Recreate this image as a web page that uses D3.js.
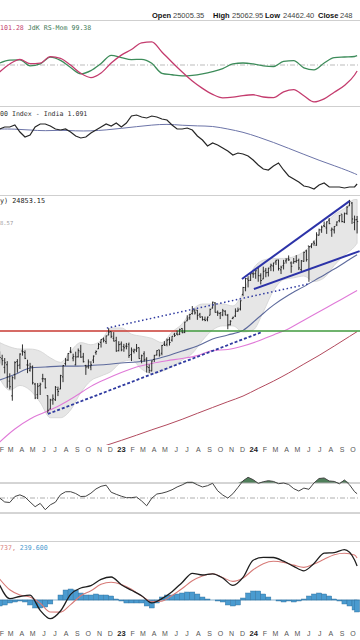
<!DOCTYPE html>
<html><head><meta charset="utf-8">
<script src="https://cdn.jsdelivr.net/npm/d3@7"></script>
<style>html,body{margin:0;padding:0;background:#fff;}svg{display:block}</style>
</head><body>
<svg id="c" width="360" height="640"></svg>
<script>
// ---------- DATA ----------
const firstWeek = "2022-02-04";            // weekly bars, one every 7 days
const opens = [17575,17456,17076,17192,16480,15868,16757,17329,17182,17810,17741,17183,16950,17097,16356,15917,16290,16579,16570,15877,15335,15700,15710,16127,16150,16662,17243,17401,17797,17491,17188,17546,17771,17540,17157,17102,17094,17396,17736,17910,18211,18376,18246,18552,18719,18402,18289,17830,
18131,18015,18033,18118,17649,17790,17859,17965,17383,17680,17443,17066,16919,17428,17634,17863,17707,18124,18120,18339,18314,18594,18612,18595,18873,18683,19246,19400,19612,19748,19784,19576,19450,19320,19328,19525,19890,20156,19679,19622,19540,19730,19522,19053,19365,19487,19731,19844,20601,20965,21434,21365,
21728,21747,22053,21615,21433,21921,21800,22121,22169,22403,22517,21946,22180,22455,22579,22339,22336,22431,22489,21959,22432,23038,23337,23320,23573,23382,23992,24329,24587,24445,24943,24302,24320,24636,24906,25333,24823,25383,25872,26061,24795,24971];
const highs = [17794,17640,17490,17352,16815,16694,17344,17442,17703,18114,17842,17414,17274,17158,16404,16399,16414,16794,16610,15886,15749,15927,16275,16248,16752,17172,17490,17719,17992,17686,17778,17925,18096,17722,17188,17428,17348,17607,17838,18176,18362,18442,18534,18888,18728,18696,18473,18265,
18252,18141,18183,18201,17972,17916,18134,17973,17645,17799,17529,17207,17381,17638,17842,17863,18089,18267,18389,18458,18508,18663,18777,18865,18887,19201,19524,19595,19992,19867,19796,19645,19465,19458,19458,19867,20222,20195,19766,19676,19849,19781,19593,19276,19451,19875,19917,20291,21006,21492,21593,21801,
21834,21928,22124,21751,22127,22053,22069,22298,22353,22525,22527,22180,22517,22619,22776,22427,22625,22795,22588,22502,22994,23111,23339,23490,23667,24174,24401,24592,24854,24861,25078,24472,24563,24867,25268,25333,25433,25849,26277,26134,25234,25212];
const lows = [17244,17165,16810,16203,16133,15671,16556,16843,17003,17598,17442,16824,16888,16340,15735,15739,15903,16438,16172,15183,15335,15511,15662,15858,16142,16438,17155,17359,17710,17345,17166,17514,17497,17291,16748,17016,16950,17263,17637,17900,17969,18209,18133,18552,18410,18255,17775,17788,
17796,17774,17886,17494,17353,17698,17761,17455,17255,17324,16850,16828,16900,17313,17598,17553,17613,18042,18028,18061,18245,18464,18558,18556,18647,18647,19230,19300,19562,19563,19297,19412,19257,19229,19223,19525,19866,19657,19492,19334,19480,19518,18837,19027,19329,19436,19700,19769,20507,20769,20976,21330,
21500,21448,21285,21137,21429,21530,21574,21875,21860,22224,21905,21710,21968,22304,22456,21777,22305,22349,21933,21821,22404,22417,21281,23206,23350,23350,23980,24141,24508,24074,24686,23893,24100,24563,24802,24801,24753,25285,25871,24700,24300,24100];
const closes = [17516,17375,17276,16658,16245,16630,17287,17153,17670,17784,17476,17172,17102,16411,15782,16266,16352,16584,16201,15293,15699,15752,16220,16049,16719,17158,17398,17698,17758,17559,17539,17833,17531,17327,17094,17315,17186,17576,17787,18117,18350,18308,18512,18697,18497,18269,17807,18105,
17859,17957,18027,17604,17854,17856,17944,17466,17594,17413,17100,16945,17360,17599,17828,17624,18065,18069,18315,18203,18499,18534,18563,18826,18665,19189,19332,19564,19745,19646,19517,19428,19310,19266,19435,19820,20192,19674,19638,19654,19751,19542,19047,19230,19425,19732,19795,20268,20970,21457,21349,21731,
21711,21895,21622,21353,21854,21783,22041,22213,22339,22494,22023,22097,22327,22514,22519,22147,22420,22476,22055,22467,22957,22531,23290,23466,23501,24011,24324,24502,24531,24835,24718,24368,24541,24823,25236,24852,25357,25791,26179,25015,24964,24853];

// Indicator series, sampled every N weeks (last week always included)
const bandStep = 4;
const bandUpper = [18200,18000,17900,17900,17800,17500,17300,17800,18200,18100,18300,18900,18900,18600,18500,18400,18200,18700,19100,19800,20100,20100,20100,20000,20700,22000,22500,22600,22600,22700,23000,23600,24600,25300,25700,26300,26300];
const bandLower = [16600,16100,16300,16100,15600,15000,15000,15300,16000,16500,16700,16900,17300,17400,17000,16800,16900,17100,17400,17700,18300,18800,19000,19000,18700,18800,19700,20800,21400,21500,21600,21300,21500,22200,22800,23300,23500];
const maStep = 6;
const ma40w  = [16530,16760,17050,17090,17130,17130,17160,17200,17270,17310,17400,17580,17810,18040,18370,18560,18780,19400,20040,20570,21020,21500,21990,22540,22820];
const ma100w = [14090,14570,14950,15220,15500,15860,16260,16570,16850,17090,17250,17370,17470,17600,17830,17880,18040,18270,18560,18860,19280,19700,20140,20580,20810];
const ma200w = [null,null,null,null,null,null,null,13970,14150,14340,14540,14730,14940,15170,15400,15630,15860,16170,16480,16830,17220,17610,18040,18490,18720];

const rsStep = 4;
const rsRatio = [99.13,100.13,100.71,100.16,100.23,101.05,100.84,99.99,98.96,98.43,99.0,100.24,101.23,101.94,102.76,102.88,101.63,100.35,99.13,98.0,97.08,96.33,95.9,95.98,96.18,96.28,96.0,95.93,96.65,96.93,96.15,95.38,95.76,96.6,97.44,98.75,99.25];
const rsMom   = [100.25,100.61,100.65,99.89,100.13,100.99,100.58,99.68,98.9,99.3,100.19,101.2,100.93,100.68,100.71,100.21,98.96,98.78,98.64,98.71,98.9,99.18,99.55,100.14,100.25,100.13,99.9,99.81,100.45,100.54,99.65,99.39,100.25,100.93,101.0,101.06,101.16];

const relStep = 2;
const relRatio = [1.268,1.274,1.274,1.280,1.259,1.244,1.250,1.274,1.283,1.283,1.277,1.268,1.265,1.268,1.259,1.247,1.241,1.244,1.256,1.265,1.274,1.283,1.277,1.286,1.274,1.286,1.307,1.310,1.304,1.301,1.307,1.304,1.298,1.295,1.280,1.268,1.268,1.271,1.265,1.247,1.235,1.217,1.226,1.220,1.211,1.202,1.190,1.196,1.193,1.187,1.175,1.160,1.148,1.145,1.157,1.166,1.145,1.127,1.118,1.109,1.097,1.094,1.088,1.100,1.106,1.094,1.094,1.094,1.091,1.094,1.094,1.103];
const relMaStep = 6;
const relMA = [1.268,1.268,1.265,1.262,1.265,1.262,1.262,1.265,1.270,1.275,1.280,1.283,1.279,1.277,1.277,1.268,1.259,1.244,1.228,1.210,1.192,1.174,1.158,1.141,1.131];

const rsiStep = 2;
const rsi = [50,44.7,44,52,54.2,51.3,44.7,38.4,42.8,34.4,40.9,44.4,54.4,58.3,58.4,56,52,52.3,56.4,62.1,65.6,67.1,57.7,54.9,52.4,50.4,50.5,51.3,46.1,39.6,49.7,55.3,56.4,58.3,61,64.7,67.5,70.9,71,67.6,64.7,66.4,69.6,59.6,54,49.9,55.7,64.1,72.9,77.6,74.4,69.5,71.7,73.1,72.1,69.1,70,68.1,62.5,59.3,63.2,61.6,70.1,76,76.7,72.7,72.1,68.9,74,67.7,58.4,55.7];
const rsiLevels = [70, 50, 30];

const macdStep = 4;
const macd   = [300,26,70,98,-206,-374,-220,112,240,288,412,460,306,194,84,-58,28,166,352,534,500,524,440,292,452,796,852,850,776,672,584,732,936,948,1008,800,680];
const signal = [420,204,100,60,-64,-240,-242,-92,86,184,314,356,310,214,78,-30,-22,90,230,384,480,524,450,372,438,604,726,774,752,698,652,718,814,904,934,900,840];
const histStep = 2;
const hist = [-120,-100,-60,-40,-20,-40,-100,-160,-160,-140,-80,0,100,200,220,200,140,100,100,120,100,100,80,20,-20,-60,-60,-60,-60,-120,-160,-60,60,100,100,120,140,160,160,120,60,20,0,-20,-40,-100,-120,-100,40,140,180,180,120,60,0,-20,-40,-20,-40,-20,20,80,120,140,120,80,20,-20,-80,-120,-200,-240];

// annotations
const levelPrice = 18750;
const levelSplit = "2023-06-10";
const dottedLine = [["2022-11-27", 18890], ["2024-06-04", 21160]];
const dashedLine = [["2022-06-17", 15144], ["2024-01-29", 18700]];
const wedgeUpper = [["2023-12-05", 21433], ["2024-09-27", 26195]];
const wedgeLower = [["2024-01-07", 20889], ["2024-10-25", 23032]];

// texts as visible in the cropped chart
const header = [["Open", "25005.35"], ["High", "25062.95"], ["Low", "24462.40"], ["Close", "248"]];
const rsLabel = ["101.28 ", "JdK RS-Mom 99.38"];
const relLabel = "00 Index - India 1.091";
const priceLabel = "y) 24853.15";
const maLabel = "8.57";
const macdLabel = ["737, ", "239.600"];

// ---------- CHART ----------
const svg = d3.select("#c");
const parse = d3.timeParse("%Y-%m-%d");
const N = closes.length;
const weeks = d3.range(N).map(i => d3.timeDay.offset(parse(firstWeek), 7 * i));
function sampleDates(step) {
  const idx = d3.range(0, N, step);
  if (idx[idx.length - 1] !== N - 1) idx.push(N - 1);
  return idx.map(i => weeks[i]);
}
const x = d3.scaleTime().domain([parse("2022-02-05"), parse("2024-10-26")]).range([0, 360]);

const P1 = {top: 21, bot: 106}, P2 = {top: 107, bot: 195}, P3 = {top: 196, bot: 445},
      P4 = {top: 459, bot: 537}, P5 = {top: 542, bot: 626};
const yRS = d3.scaleLinear().domain([95, 105]).range([105, 25]);
const yRel = d3.scaleLinear().domain([1.07, 1.34]).range([195, 105]);
const yP = d3.scaleLog().domain([13947, 26540]).range([446, 196]);
const yRSI = d3.scaleLinear().domain([0, 100]).range([535.5, 460.5]);
const yM = d3.scaleLinear().domain([-1000, 1200]).range([650, 540]);

const defs = svg.append("defs");
function clip(id, p) {
  defs.append("clipPath").attr("id", id).append("rect").attr("x", 0).attr("y", p.top).attr("width", 360).attr("height", p.bot - p.top);
  return svg.append("g").attr("clip-path", `url(#${id})`);
}
const SANS = "Arial, 'Liberation Sans', sans-serif";
const MONO = "'DejaVu Sans Mono', monospace";

// panel separators
[20.5, 106.5, 195.5, 541.5].forEach(y => svg.append("line").attr("x1", 0).attr("x2", 360).attr("y1", y).attr("y2", y).attr("stroke", "#cfcfcf").attr("stroke-width", 1));

// header
const hx = [[152, 173], [213, 232], [265, 283], [318, 340]];
const hg = svg.append("g").attr("font-family", SANS).attr("font-size", 7.5);
header.forEach(([k, v], i) => {
  hg.append("text").attr("x", hx[i][0]).attr("y", 18).attr("font-weight", "bold").attr("fill", "#111").text(k);
  hg.append("text").attr("x", hx[i][1]).attr("y", 18).attr("fill", "#444").text(v);
});

// ----- Panel 1: RS -----
const g1 = clip("c1", P1);
g1.append("line").attr("x1", 0).attr("x2", 360).attr("y1", yRS(100)).attr("y2", yRS(100)).attr("stroke", "#aaa").attr("stroke-dasharray", "5,2,1,2").attr("stroke-width", 0.8);
const lineRS = d3.line().x(d => x(d[0])).y(d => yRS(d[1])).curve(d3.curveMonotoneX);
const dRS = sampleDates(rsStep);
g1.append("path").attr("d", lineRS(dRS.map((d, i) => [d, rsMom[i]]))).attr("fill", "none").attr("stroke", "#3d8c5a").attr("stroke-width", 1.3);
g1.append("path").attr("d", lineRS(dRS.map((d, i) => [d, rsRatio[i]]))).attr("fill", "none").attr("stroke", "#c43c6e").attr("stroke-width", 1.3);
const t1 = svg.append("text").attr("x", 0).attr("y", 30).attr("font-family", MONO).attr("font-size", 6.6);
t1.append("tspan").attr("fill", "#c43c6e").text(rsLabel[0]);
t1.append("tspan").attr("fill", "#3d7a55").text(rsLabel[1]);

// ----- Panel 2: relative -----
const g2 = clip("c2", P2);
const dRelMA = sampleDates(relMaStep), dRel = sampleDates(relStep);
g2.append("path").attr("d", d3.line().x(d => x(d[0])).y(d => yRel(d[1])).curve(d3.curveBasis)(dRelMA.map((d, i) => [d, relMA[i]]))).attr("fill", "none").attr("stroke", "#6c74a8").attr("stroke-width", 1);
g2.append("path").attr("d", d3.line().x(d => x(d[0])).y(d => yRel(d[1]))(dRel.map((d, i) => [d, relRatio[i]]))).attr("fill", "none").attr("stroke", "#262626").attr("stroke-width", 1.2);
svg.append("text").attr("x", 0).attr("y", 116).attr("font-family", MONO).attr("font-size", 6.6).attr("fill", "#333").text(relLabel);

// ----- Panel 3: price -----
const g3 = clip("c3", P3);
const dBand = sampleDates(bandStep);
const bandData = dBand.map((d, i) => [d, bandUpper[i], bandLower[i]]);
g3.append("path").attr("d", d3.area().x(d => x(d[0])).y0(d => yP(d[2])).y1(d => yP(d[1])).curve(d3.curveMonotoneX)(bandData)).attr("fill", "#e6e6e6").attr("stroke", "#d2d2d2").attr("stroke-width", 0.8);
const dMA = sampleDates(maStep);
const maLine = d3.line().defined(d => d[1] != null).x(d => x(d[0])).y(d => yP(d[1])).curve(d3.curveMonotoneX);
g3.append("path").attr("d", maLine(dMA.map((d, i) => [d, ma200w[i]]))).attr("fill", "none").attr("stroke", "#b24a5e").attr("stroke-width", 1);
g3.append("path").attr("d", maLine(dMA.map((d, i) => [d, ma100w[i]]))).attr("fill", "none").attr("stroke", "#e07ad8").attr("stroke-width", 1.1);
g3.append("path").attr("d", maLine(dMA.map((d, i) => [d, ma40w[i]]))).attr("fill", "none").attr("stroke", "#5d6a9c").attr("stroke-width", 1.1);
// level lines
const xSplit = x(parse(levelSplit));
g3.append("line").attr("x1", 0).attr("x2", xSplit).attr("y1", yP(levelPrice)).attr("y2", yP(levelPrice)).attr("stroke", "#c83a32").attr("stroke-width", 1.4);
g3.append("line").attr("x1", xSplit).attr("x2", 360).attr("y1", yP(levelPrice)).attr("y2", yP(levelPrice)).attr("stroke", "#3f9a3c").attr("stroke-width", 1.4);
// OHLC bars
const bars = g3.append("g").attr("stroke", "#1a1a1a").attr("stroke-width", 0.9);
weeks.forEach((d, i) => {
  const cx = x(d);
  bars.append("line").attr("x1", cx).attr("x2", cx).attr("y1", yP(highs[i])).attr("y2", yP(lows[i]));
  bars.append("line").attr("x1", cx - 1.1).attr("x2", cx).attr("y1", yP(opens[i])).attr("y2", yP(opens[i]));
  bars.append("line").attr("x1", cx).attr("x2", cx + 1.1).attr("y1", yP(closes[i])).attr("y2", yP(closes[i]));
});
// trend lines
const seg = (a) => a.map(([d, v]) => [x(parse(d)), yP(v)]);
const tl = d3.line();
g3.append("path").attr("d", tl(seg(dottedLine))).attr("stroke", "#2f3aa0").attr("stroke-width", 1.5).attr("stroke-dasharray", "1.5,2.5").attr("fill", "none");
g3.append("path").attr("d", tl(seg(dashedLine))).attr("stroke", "#2f3aa0").attr("stroke-width", 1.8).attr("stroke-dasharray", "3,2").attr("fill", "none");
g3.append("path").attr("d", tl(seg(wedgeUpper))).attr("stroke", "#2c33a8").attr("stroke-width", 2).attr("fill", "none");
g3.append("path").attr("d", tl(seg(wedgeLower))).attr("stroke", "#2c33a8").attr("stroke-width", 2).attr("fill", "none");
svg.append("text").attr("x", 0).attr("y", 203).attr("font-family", MONO).attr("font-size", 6.8).attr("fill", "#222").text(priceLabel);
svg.append("text").attr("x", 0).attr("y", 225).attr("font-family", MONO).attr("font-size", 5.5).attr("fill", "#999").text(maLabel);

// month labels
function monthAxis(y) {
  const months = d3.timeMonth.range(parse("2022-02-01"), parse("2024-10-26"));
  const gA = svg.append("g").attr("font-family", SANS).attr("text-anchor", "middle");
  months.forEach(m => {
    const isYear = m.getMonth() === 0;
    gA.append("text").attr("x", Math.max(2, x(m) + 2)).attr("y", y).attr("font-size", isYear ? 7.5 : 7)
      .attr("font-weight", isYear ? "bold" : "normal").attr("fill", isYear ? "#222" : "#555")
      .text(isYear ? d3.timeFormat("%y")(m) : d3.timeFormat("%b")(m).charAt(0));
  });
}
monthAxis(452);

// ----- Panel 4: RSI -----
const g4 = clip("c4", P4);
const dRSI = sampleDates(rsiStep);
const rsiData = dRSI.map((d, i) => [d, rsi[i]]);
g4.append("path").attr("d", d3.area().x(d => x(d[0])).y0(yRSI(70)).y1(d => yRSI(Math.max(70, d[1])))(rsiData)).attr("fill", "#4f7f5a");
rsiLevels.forEach(l => g4.append("line").attr("x1", 0).attr("x2", 360).attr("y1", yRSI(l)).attr("y2", yRSI(l))
  .attr("stroke", l === 50 ? "#999" : "#aaa").attr("stroke-width", l === 50 ? 0.8 : 1).attr("stroke-dasharray", l === 50 ? "5,2,1,2" : null));
g4.append("path").attr("d", d3.line().x(d => x(d[0])).y(d => yRSI(d[1]))(rsiData)).attr("fill", "none").attr("stroke", "#444").attr("stroke-width", 1);

// ----- Panel 5: MACD -----
const g5 = clip("c5", P5);
const dH = sampleDates(histStep);
g5.selectAll("rect.h").data(dH.map((d, i) => [d, hist[i]])).join("rect")
  .attr("x", d => x(d[0]) - 2.5).attr("width", 5)
  .attr("y", d => Math.min(yM(0), yM(d[1]))).attr("height", d => Math.abs(yM(d[1]) - yM(0)))
  .attr("fill", "#4a9bd0").attr("stroke", "#2a6a98").attr("stroke-width", 0.4);
g5.append("line").attr("x1", 0).attr("x2", 360).attr("y1", yM(0)).attr("y2", yM(0)).attr("stroke", "#3a7fb0").attr("stroke-width", 0.6);
const dM = sampleDates(macdStep);
const mLine = d3.line().x(d => x(d[0])).y(d => yM(d[1])).curve(d3.curveMonotoneX);
g5.append("path").attr("d", mLine(dM.map((d, i) => [d, signal[i]]))).attr("fill", "none").attr("stroke", "#d77b78").attr("stroke-width", 1.1);
g5.append("path").attr("d", mLine(dM.map((d, i) => [d, macd[i]]))).attr("fill", "none").attr("stroke", "#1e1e1e").attr("stroke-width", 1.3);
const t5 = svg.append("text").attr("x", 0).attr("y", 550).attr("font-family", MONO).attr("font-size", 6.6);
t5.append("tspan").attr("fill", "#d77b78").text(macdLabel[0]);
t5.append("tspan").attr("fill", "#4a9bd0").text(macdLabel[1]);
monthAxis(636);
</script>
</body></html>
